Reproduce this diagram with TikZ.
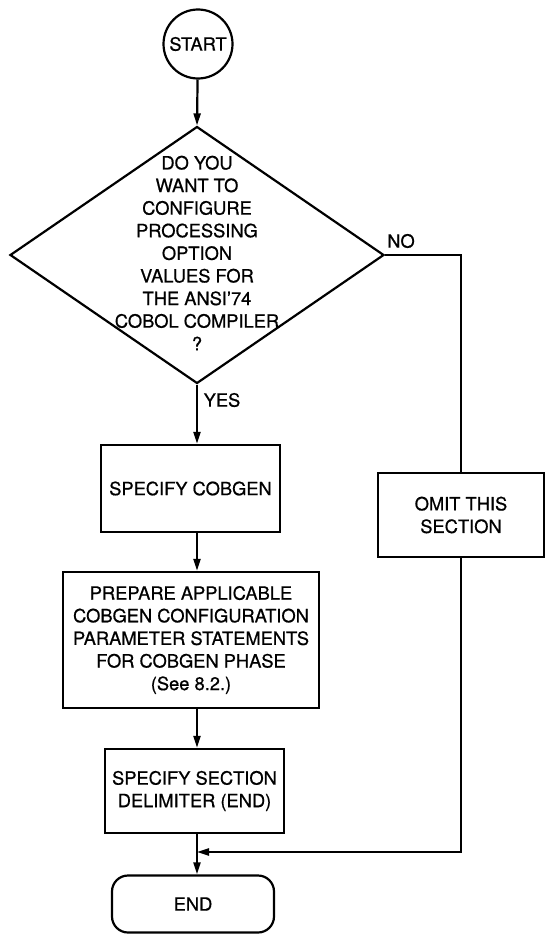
\documentclass[tikz,border=0pt]{standalone}
\usepackage{fontspec}
\newfontfamily\chartfont[FakeBold=0.7]{TeX Gyre Heros}
\usetikzlibrary{shapes.geometric,arrows.meta}

\tikzset{
	terminal/.style = {circle, draw=black, line width=2.2pt, minimum size=69pt, inner sep=0pt},
	decision/.style = {diamond, draw=black, line width=2.2pt, minimum width=374pt, minimum height=257pt, inner sep=0pt},
	process/.style = {rectangle, draw=black, line width=2.2pt, align=center, inner sep=0pt},
	terminus/.style = {rectangle, rounded corners=16pt, draw=black, line width=2.2pt, minimum width=162pt, minimum height=57pt},
	flow/.style = {line width=2.2pt, -{Triangle[length=12pt,width=7pt]}},
	line/.style = {line width=2.2pt}
}

\begin{document}
\begin{tikzpicture}[x=1pt, y=-1pt]
	\tikzstyle{every node}=[font=\chartfont\fontsize{18.3}{22.6}\selectfont]
	\useasboundingbox (0,0) rectangle (545,934);

	\node[terminal] (start) at (198,44) {START};
	\node[decision] (quest) at (197,255) {};
	\node[align=center, inner sep=0pt] (questtext) at (197,253) {DO YOU\\WANT TO\\CONFIGURE\\PROCESSING\\OPTION\\VALUES FOR\\THE ANSI’74\\COBOL COMPILER\\?};
	\node[process, minimum width=179pt, minimum height=87pt] (cobgen) at (190.5,488.5) {SPECIFY COBGEN};
	\node[process, minimum width=256pt, minimum height=136pt] (prepare) at (191,640) {PREPARE APPLICABLE\\COBGEN CONFIGURATION\\PARAMETER STATEMENTS\\FOR COBGEN PHASE\\(See 8.2.)};
	\node[process, minimum width=179pt, minimum height=84pt] (delim) at (194.5,791) {SPECIFY SECTION\\DELIMITER (END)};
	\node[terminus] (finish) at (193,904) {END};
	\node[process, minimum width=166pt, minimum height=84pt] (omit) at (461,515) {OMIT THIS\\SECTION};
	\node (yes) at (222,400) {YES};
	\node (no) at (401,241) {NO};
	\coordinate (merge) at (197,852);

	\draw[flow] (start) -- (quest.north);
	\draw[flow] (quest.south) -- (quest.south |- cobgen.north);
	\draw[flow] (cobgen.south -| quest.south) -- (prepare.north -| quest.south);
	\draw[flow] (prepare.south -| quest.south) -- (delim.north -| quest.south);
	\draw[flow] (delim.south -| merge) -- (finish.north -| merge);
	\draw[line] (quest.east) -| (omit.north);
	\draw[flow] (omit.south) |- (merge);
\end{tikzpicture}
\end{document}
